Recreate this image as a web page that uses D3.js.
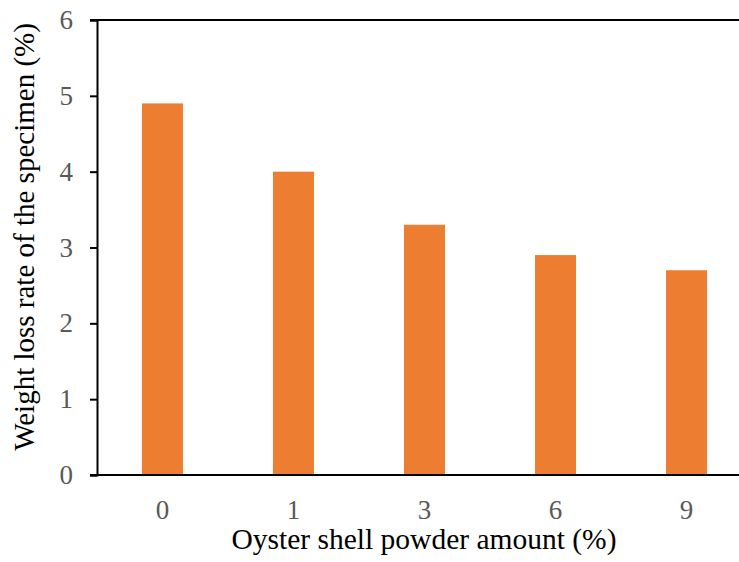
<!DOCTYPE html>
<html><head><meta charset="utf-8">
<script src="https://cdn.jsdelivr.net/npm/d3@7"></script>
<style>body{margin:0;background:#fff} text{font-family:"Times New Roman","Liberation Serif","DejaVu Serif",serif}</style>
</head><body>
<svg id="c" width="739" height="562"></svg>
<script>
const categories = ["0","1","3","6","9"];
const values = [4.9, 4.0, 3.3, 2.9, 2.7];
const yTicks = [0,1,2,3,4,5,6];
const xTitle = "Oyster shell powder amount (%)";
const yTitle = "Weight loss rate of the specimen (%)";

const svg = d3.select("#c");
const mLeft = 97, mRight = 752, mTop = 20, mBottom = 475;
const x = d3.scaleBand().domain(categories).range([mLeft, mRight]).paddingInner(0.687).paddingOuter(0.343);
const y = d3.scaleLinear().domain([0, 6]).range([mBottom, mTop]);

svg.selectAll("rect.bar").data(values).join("rect")
  .attr("class","bar")
  .attr("x",(d,i)=>x(categories[i]))
  .attr("width",x.bandwidth())
  .attr("y",d=>y(d))
  .attr("height",d=>y(0)-y(d))
  .attr("fill","#ed7d31");

// y axis
const ya = svg.append("g").attr("transform",`translate(${mLeft},0)`)
  .call(d3.axisLeft(y).tickValues(yTicks).tickSize(7).tickPadding(17).tickFormat(d3.format("d")));
ya.attr("font-family",null);
ya.select(".domain").attr("stroke","#000").attr("stroke-width",2);
ya.selectAll(".tick line").attr("stroke","#000").attr("stroke-width",2);
ya.selectAll(".tick text").attr("font-size",27).attr("fill","#595959");

// top line and bottom line
svg.append("line").attr("x1",90).attr("x2",739).attr("y1",y(6)).attr("y2",y(6)).attr("stroke","#000").attr("stroke-width",2);
svg.append("line").attr("x1",90).attr("x2",739).attr("y1",y(0)).attr("y2",y(0)).attr("stroke","#000").attr("stroke-width",2);

// x axis labels
const xa = svg.append("g").attr("transform",`translate(0,${mBottom})`)
  .call(d3.axisBottom(x).tickSize(0).tickPadding(25));
xa.attr("font-family",null);
xa.select(".domain").remove();
xa.selectAll(".tick text").attr("font-size",27).attr("fill","#595959");

svg.append("text").attr("x",424).attr("y",549).attr("text-anchor","middle")
  .attr("font-size",29.5).attr("fill","#000").text(xTitle);
svg.append("text").attr("transform","translate(34,237) rotate(-90)").attr("text-anchor","middle")
  .attr("font-size",29).attr("fill","#000").text(yTitle);
</script>
</body></html>
